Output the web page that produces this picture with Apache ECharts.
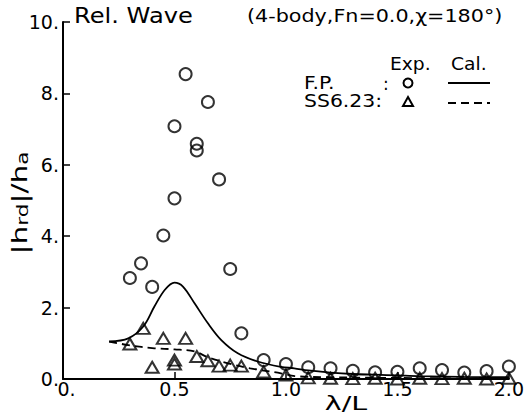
<!DOCTYPE html>
<html>
<head>
<meta charset="utf-8">
<script src="https://cdn.jsdelivr.net/npm/echarts@6/dist/echarts.min.js"></script>
<style>html,body{margin:0;padding:0;background:#fff}#c{width:527px;height:418px}</style>
</head>
<body>
<div id="c"></div>
<script>
// ---- data ----
var xTicks = [0, 0.5, 1.0, 1.5, 2.0];
var xTickLabels = ['0.', '0.5', '1.0', '1.5', '2.0'];
var yTicks = [0, 2, 4, 6, 8, 10];
var yTickLabels = ['0.', '2.', '4.', '6.', '8.', '10.'];

// F.P. experiment (circles)
var fpExpX = [0.30, 0.35, 0.40, 0.45, 0.50, 0.50, 0.55, 0.60, 0.60, 0.65, 0.70, 0.75, 0.80, 0.90, 1.00,
              1.10, 1.20, 1.30, 1.40, 1.50, 1.60, 1.70, 1.80, 1.90, 2.00];
var fpExpY = [2.83, 3.24, 2.58, 4.02, 5.06, 7.08, 8.54, 6.59, 6.40, 7.76, 5.59, 3.08, 1.28, 0.53, 0.42,
              0.33, 0.30, 0.23, 0.19, 0.20, 0.30, 0.25, 0.18, 0.22, 0.35];

// SS6.23 experiment (triangles)
var ssExpX = [0.30, 0.36, 0.40, 0.45, 0.50, 0.50, 0.55, 0.60, 0.65, 0.70, 0.75, 0.80, 0.90, 1.00,
              1.10, 1.20, 1.30, 1.40, 1.50, 1.60, 1.70, 1.80, 1.90, 2.00];
var ssExpY = [0.98, 1.42, 0.33, 1.14, 0.53, 0.42, 1.14, 0.63, 0.51, 0.36, 0.39, 0.36, 0.20, 0.11,
              0.03, 0.02, 0.01, 0.02, 0.00, 0.02, 0.01, 0.02, 0.00, 0.02];

// F.P. calculation (solid)
var fpCalX = [0.207, 0.293, 0.36, 0.41, 0.457, 0.50, 0.538, 0.59, 0.65, 0.71, 0.784, 0.873, 0.978, 1.037,
              1.10, 1.20, 1.30, 1.40, 1.50, 1.60, 1.80, 2.00];
var fpCalY = [1.05, 1.14, 1.47, 2.03, 2.50, 2.70, 2.59, 2.12, 1.56, 1.09, 0.72, 0.49, 0.34, 0.30,
              0.24, 0.18, 0.14, 0.12, 0.10, 0.08, 0.06, 0.05];

// SS6.23 calculation (dashed)
var ssCalX = [0.207, 0.293, 0.41, 0.50, 0.59, 0.65, 0.74, 0.84, 0.978, 1.04, 1.20, 1.50, 2.00];
var ssCalY = [1.05, 0.95, 0.86, 0.83, 0.77, 0.61, 0.44, 0.30, 0.16, 0.08, 0.05, 0.03, 0.01];

function zip(a, b) { return a.map(function (v, i) { return [v, b[i]]; }); }

var FONT = 'DejaVu Sans';
var chart = echarts.init(document.getElementById('c'), null, { renderer: 'svg' });

var option = {
  backgroundColor: '#fff',
  animation: false,
  grid: { left: 63, right: 18, top: 22, bottom: 39, containLabel: false },
  xAxis: {
    type: 'value', min: 0, max: 2, interval: 0.5,
    axisLine: { show: true, lineStyle: { color: '#000', width: 2 } },
    axisTick: { show: true, inside: true, length: 7, lineStyle: { color: '#000', width: 1.5 } },
    splitLine: { show: false },
    axisLabel: {
      color: '#000', fontFamily: FONT, fontSize: 19, margin: 0,
      formatter: function (v) {
        var i = xTicks.indexOf(Math.round(v * 10) / 10);
        var t = i >= 0 ? xTickLabels[i] : '';
        return i === 0 ? '{z|' + t + '}' : t;
      },
      rich: { z: { fontFamily: FONT, fontSize: 19, color: '#000', padding: [0, 0, 0, 7] } }
    }
  },
  yAxis: {
    type: 'value', min: 0, max: 10, interval: 2,
    axisLine: { show: true, lineStyle: { color: '#000', width: 2 } },
    axisTick: { show: true, inside: true, length: 7, lineStyle: { color: '#000', width: 1.5 } },
    splitLine: { show: false },
    axisLabel: {
      color: '#000', fontFamily: FONT, fontSize: 19, margin: 4,
      formatter: function (v) {
        var i = yTicks.indexOf(Math.round(v));
        return i >= 0 ? yTickLabels[i] : '';
      }
    }
  },
  series: [
    {
      name: 'F.P. Cal.', type: 'line', data: zip(fpCalX, fpCalY), smooth: 0.35,
      showSymbol: false, symbol: 'none', clip: false,
      lineStyle: { color: '#000', width: 1.8, type: 'solid' }
    },
    {
      name: 'SS6.23 Cal.', type: 'line', data: zip(ssCalX, ssCalY), smooth: 0.35,
      showSymbol: false, symbol: 'none', clip: false,
      lineStyle: { color: '#000', width: 1.8, type: [8, 5] }
    },
    {
      name: 'F.P. Exp.', type: 'scatter', data: zip(fpExpX, fpExpY), clip: false,
      symbol: 'circle', symbolSize: 12,
      itemStyle: { color: 'rgba(0,0,0,0)', borderColor: '#000', borderWidth: 2 }
    },
    {
      name: 'SS6.23 Exp.', type: 'scatter', data: zip(ssExpX, ssExpY), clip: false,
      symbol: 'triangle', symbolSize: [13, 11],
      itemStyle: { color: 'rgba(0,0,0,0)', borderColor: '#000', borderWidth: 2 }
    }
  ],
  graphic: [
    { type: 'text', left: 74, top: 5, scaleX: 1.15,
      style: { text: 'Rel. Wave', fontFamily: FONT, fontSize: 21, fill: '#000' } },
    { type: 'text', left: 247, top: 7, scaleX: 1.15,
      style: { text: '(4-body,Fn=0.0,χ=180°)', fontFamily: FONT, fontSize: 18, fill: '#000' } },
    // legend table
    { type: 'text', left: 390, top: 55, scaleX: 1.1, style: { text: 'Exp.', fontFamily: FONT, fontSize: 17, fill: '#000' } },
    { type: 'text', left: 451, top: 55, scaleX: 1.1, style: { text: 'Cal.', fontFamily: FONT, fontSize: 17, fill: '#000' } },
    { type: 'text', left: 304, top: 75, scaleX: 1.2, style: { text: 'F.P.', fontFamily: FONT, fontSize: 17, fill: '#000' } },
    { type: 'text', left: 383, top: 75, style: { text: ':', fontFamily: FONT, fontSize: 17, fill: '#000' } },
    { type: 'circle', shape: { cx: 408, cy: 83, r: 4.5 }, style: { fill: 'none', stroke: '#000', lineWidth: 2 } },
    { type: 'line', shape: { x1: 448, y1: 83, x2: 490, y2: 83 }, style: { stroke: '#000', lineWidth: 1.8 } },
    { type: 'text', left: 304, top: 93, scaleX: 1.2, style: { text: 'SS6.23:', fontFamily: FONT, fontSize: 17, fill: '#000' } },
    { type: 'polygon', shape: { points: [[408, 97], [413, 106], [403, 106]] }, style: { fill: 'none', stroke: '#000', lineWidth: 2 } },
    { type: 'line', shape: { x1: 448, y1: 103, x2: 490, y2: 103 }, style: { stroke: '#000', lineWidth: 1.8, lineDash: [8, 5] } },
    // axis names
    { type: 'text', x: 19, y: 203, rotation: Math.PI / 2, scaleX: 1.35,
      style: {
        text: '{a||h}{b|rd}{a||/h}{b|a}', align: 'center', verticalAlign: 'middle',
        rich: {
          a: { fontFamily: FONT, fontSize: 22, fill: '#000', color: '#000' },
          b: { fontFamily: FONT, fontSize: 16, fill: '#000', color: '#000', padding: [6, 0, 0, 0] }
        }
      } },
    { type: 'text', x: 346, y: 404, scaleX: 1.5,
      style: { text: 'λ/L', fontFamily: FONT, fontSize: 19, fill: '#000', align: 'center', verticalAlign: 'middle' } }
  ]
};
chart.setOption(option);
</script>
</body>
</html>
